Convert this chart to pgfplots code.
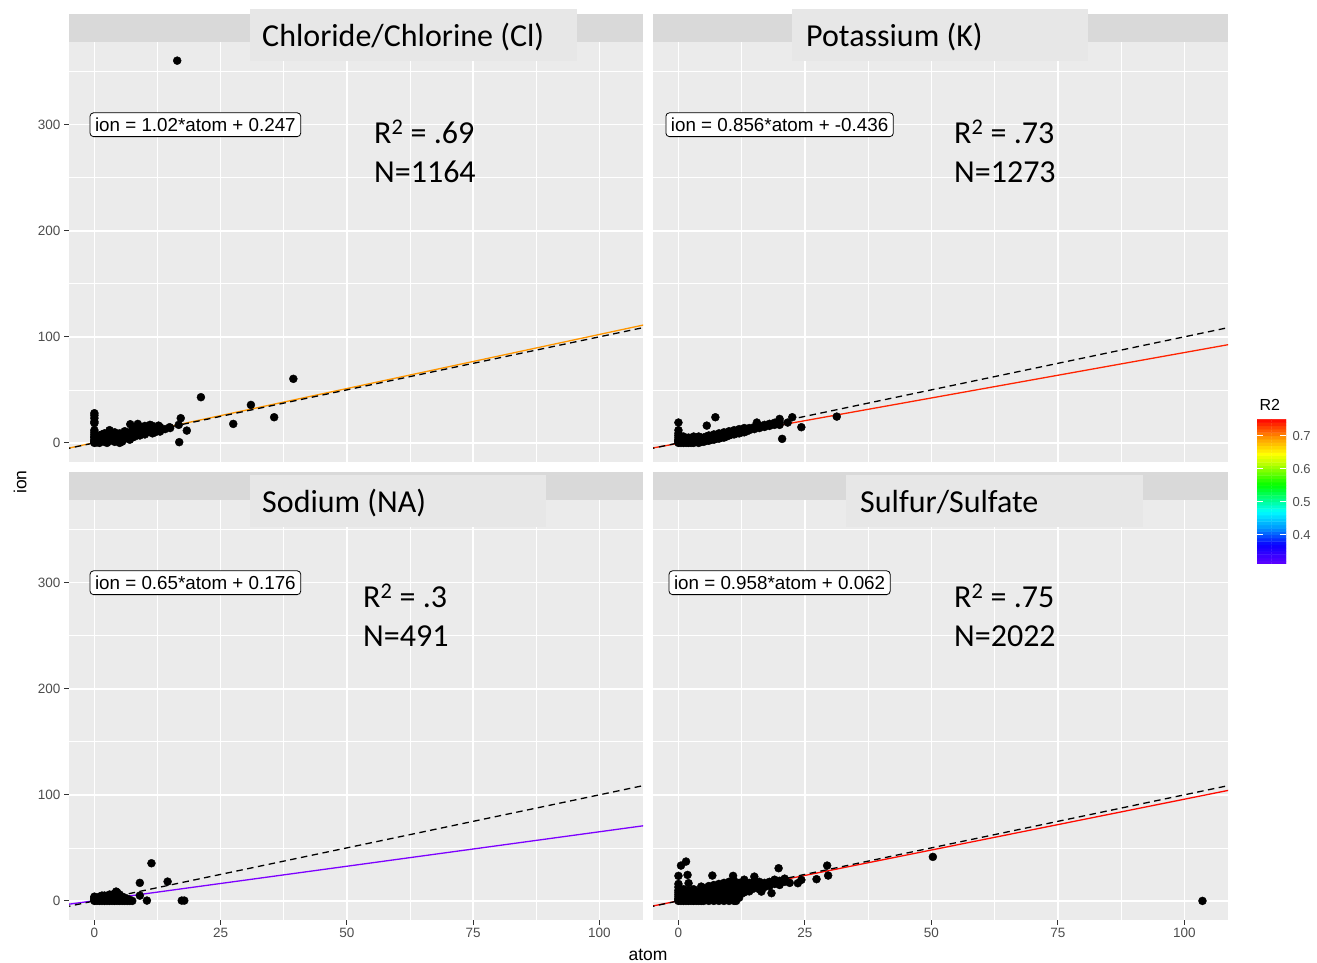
\documentclass[border=0pt]{standalone}
\usepackage{fontspec}
\setmainfont{Liberation Sans}
\newfontfamily\calib{Carlito}
\usepackage{pgfplots}
\usepackage{pgfplotstable}
\pgfplotsset{compat=1.18}

\definecolor{panelbg}{HTML}{EBEBEB}
\definecolor{stripbg}{HTML}{D9D9D9}
\definecolor{boxbg}{HTML}{E7E7E7}
\definecolor{ticktxt}{HTML}{4D4D4D}
\definecolor{tickcol}{HTML}{333333}
\definecolor{clcol}{RGB}{255,150,0}
\definecolor{kcol}{RGB}{255,35,0}
\definecolor{nacol}{RGB}{125,0,255}
\definecolor{scol}{RGB}{255,10,0}

\pgfplotstableread[row sep=\\]{x y\\
0 0\\ 0 1\\ 0 2\\ 0 3\\ 0 5\\ 0 6\\ 0 8\\ 0 10\\ 0 12\\ 0 18.6\\ 0 20\\ 0 23.3\\ 0 26\\ 0 28\\
0.5 0.5\\ 0.5 2\\ 0.5 4\\ 1 0\\ 1 1\\ 1 3\\ 1 5\\ 1 7\\ 1.5 2\\ 1.5 4\\ 1.5 8\\
2 1\\ 2 3\\ 2 6\\ 2 9\\ 2.5 0\\ 2.5 4\\ 2.5 7\\ 3 2\\ 3 5\\ 3 9\\ 3 12\\ 3.5 3\\ 3.5 6\\
4 1\\ 4 4\\ 4 7\\ 4 10\\ 4.5 5\\ 4.5 8\\ 5 0\\ 5 3\\ 5 6\\ 5 9\\ 5.5 1.2\\ 5.5 7\\
6 4\\ 6 8\\ 6 11\\ 6.5 6\\ 6.5 9\\ 7 3\\ 7 7\\ 7 10\\ 7.1 17.6\\ 7.5 5\\ 7.5 9\\ 7.5 12\\
8 6\\ 8 10\\ 8 14\\ 8.6 17.9\\ 8.5 8\\ 8.5 12\\ 9 7\\ 9 11\\ 9 15\\ 9.5 9\\ 9.5 13\\
10 8\\ 10 12\\ 10 16\\ 10.5 10\\ 10.5 14\\ 11 11\\ 11.4 16.3\\ 11 17\\ 11.5 9\\ 11.5 13\\
12 10\\ 12 14\\ 12.7 16.3\\ 12.5 12\\ 13 10.7\\ 13 15\\ 14 13\\ 14.9 14.8\\ 15 14\\
16.7 17\\ 17.1 23.3\\ 16.8 0.7\\ 18.3 11.6\\ 21.1 43.1\\ 27.5 17.9\\ 31.0 35.8\\ 35.6 24.2\\ 39.4 60.4\\ 16.4 360.4\\
}\tabCl

\pgfplotstableread[row sep=\\]{x y\\
0 0\\ 0 1\\ 0 2\\ 0 3\\ 0 5\\ 0 7\\ 0 9\\ 0 12\\ 0 19.2\\ 0.5 0\\ 0.5 2\\ 0.5 5\\
1 0\\ 1 1\\ 1 3\\ 1 6\\ 1.5 0\\ 1.5 2\\ 1.5 4\\ 2 0\\ 2 1\\ 2 3\\ 2 5\\ 2.5 0\\ 2.5 2\\ 2.5 4\\
3 0\\ 3 1\\ 3 3\\ 3 6\\ 3.5 1\\ 3.5 3\\ 4 0\\ 4 2\\ 4 4\\ 4 6\\ 4.5 1\\ 4.5 3\\ 4.5 5\\
5 1\\ 5 3\\ 5 5\\ 5.5 2\\ 5.5 4\\ 5.5 6\\ 5.6 16.3\\ 6 2\\ 6 4\\ 6 7\\ 6.5 3\\ 6.5 5\\
7 3\\ 7 5\\ 7 8\\ 7.3 24.2\\ 7.5 4\\ 7.5 6\\ 8 4\\ 8 7\\ 8 9\\ 8.5 5\\ 8.5 8\\
9 5\\ 9 7\\ 9 10\\ 9.5 6\\ 9.5 9\\ 10 7\\ 10 9\\ 10 11\\ 10.5 8\\ 10.5 10\\
11 8\\ 11 10\\ 11 12\\ 11.5 9\\ 11.5 11\\ 12 9\\ 12 11\\ 12 13\\ 12.5 10\\ 12.5 12\\
13 10\\ 13 12\\ 13 14\\ 13.5 11\\ 13.5 13\\ 14 12\\ 14 14\\ 15 13\\ 15 15\\ 15.5 19.2\\
16 14\\ 16 16\\ 17 15\\ 17 17\\ 18 16\\ 18 18\\ 19 17\\ 19 19\\ 20 17\\ 20 19\\
20 22.6\\ 20.5 3.8\\ 21.6 19.2\\ 22.5 24.2\\ 24.3 14.8\\ 31.3 24.8\\
}\tabK

\pgfplotstableread[row sep=\\]{x y\\
0 0\\ 0 1\\ 0 2\\ 0 3\\ 0 4\\ 0.5 0\\ 0.5 2\\ 1 0\\ 1 1\\ 1 3\\ 1 4\\ 1.5 0\\ 1.5 2\\ 1.5 5\\
2 0\\ 2 1\\ 2 3\\ 2 5\\ 2.5 0\\ 2.5 2\\ 2.5 4\\ 3 0\\ 3 1\\ 3 3\\ 3 6\\ 3.5 0\\ 3.5 2\\ 3.5 5\\
4 0\\ 4 1\\ 4 3\\ 4 7\\ 4.3 8.8\\ 4.5 0\\ 4.5 2\\ 4.5 5\\ 4.5 8\\ 5 0\\ 5 1\\ 5 3\\ 5 6\\
5.5 0\\ 5.5 2\\ 5.5 4\\ 6 0\\ 6 1\\ 6 3\\ 6.5 0\\ 6.5 2\\ 7 0\\ 7 1\\ 7.5 0\\
9 5\\ 9 17\\ 10.4 0.3\\ 11.3 35.5\\ 14.5 18.2\\ 17.3 0.3\\ 17.8 0.3\\
}\tabNa

\pgfplotstableread[row sep=\\]{x y\\
0 0\\ 0 1\\ 0 2\\ 0 4\\ 0 6\\ 0 8\\ 0 10\\ 0 13\\ 0 16\\ 0 23.6\\ 0.5 0\\ 0.5 3\\ 0.5 6\\ 0.5 33.3\\
1 0\\ 1 2\\ 1 4\\ 1 8\\ 1 11\\ 1.5 0\\ 1.5 3\\ 1.5 6\\ 1.5 37.1\\ 1.8 24.5\\ 2 16.7\\
2 0\\ 2 1\\ 2 4\\ 2 7\\ 2 10\\ 2.5 0\\ 2.5 3\\ 2.5 6\\ 3 0\\ 3 2\\ 3 5\\ 3 8\\ 3 11\\
3.5 0\\ 3.5 3\\ 3.5 7\\ 4 0\\ 4 2\\ 4 5\\ 4 9\\ 4.5 0\\ 4.5 4\\ 4.5 7\\ 4.5 13.5\\
5 0\\ 5 3\\ 5 6\\ 5 10\\ 5 12\\ 5.5 1\\ 5.5 5\\ 5.5 8\\ 6 0\\ 6 3\\ 6 7\\ 6 11\\ 6 14\\
6.5 2\\ 6.5 5\\ 6.5 9\\ 6.7 23.9\\ 7 0\\ 7 4\\ 7 8\\ 7 12\\ 7 15\\ 7.5 2\\ 7.5 6\\ 7.5 10\\
8 0\\ 8 5\\ 8 9\\ 8 13\\ 8 16\\ 8.5 3\\ 8.5 7\\ 8.5 11\\ 9 0\\ 9 6\\ 9 10\\ 9 14\\ 9 17\\
9.5 4\\ 9.5 8\\ 9.5 12\\ 10 0\\ 10 7\\ 10 11\\ 10 15\\ 10 18\\ 10.5 5\\ 10.5 9\\ 10.5 13\\ 10.8 23.6\\
11 0\\ 11 8\\ 11 12\\ 11 16\\ 11 19\\ 11.4 0\\ 11.5 6\\ 11.5 10\\ 11.5 14\\
12 3\\ 12 9\\ 12 13\\ 12 17\\ 12.5 7\\ 12.5 11\\ 12.5 15\\ 13 8\\ 13 12\\ 13 16\\ 13 20\\
13.5 10\\ 13.5 14\\ 14 9\\ 14 13\\ 14 17\\ 14.5 11\\ 14.5 15\\ 15 12\\ 15 16\\ 15 19\\ 15 22.9\\
16 11\\ 16 15\\ 16 18\\ 16.4 8.8\\ 17 13\\ 17 17\\ 18 14\\ 18 18\\ 18.4 7.3\\ 19 16\\ 19 20\\
19.8 30.8\\ 20 15\\ 20 19\\ 21 18\\ 21 21\\ 22 17\\
23.6 16.7\\ 24.3 19.8\\ 27.3 20.5\\ 29.4 33.3\\ 29.6 23.9\\ 50.3 41.5\\ 103.6 0\\
}\tabS

\pgfplotsset{
  panel/.style={
    scale only axis, width=574pt, height=420pt,
    xmin=-5.03, xmax=108.65, ymin=-18, ymax=378,
    axis line style={draw=none},
    axis background/.style={fill=panelbg},
    xtick={0,25,50,75,100}, ytick={0,100,200,300},
    minor xtick={12.5,37.5,62.5,87.5}, minor ytick={50,150,250,350},
    xtick pos=bottom, ytick pos=left,
    grid=both,
    major grid style={white, line width=1.5pt},
    minor grid style={white, line width=0.7pt},
    tick align=outside, major tick length=5pt, minor tick length=0pt,
    every tick/.style={tickcol, line width=1pt},
    tick label style={font=\fontsize{13.5}{15}\selectfont, text=ticktxt},
    /pgf/number format/assume math mode=true,
  },
  pts/.style={only marks, mark=*, mark size=4pt, draw=black, fill=black},
  idl/.style={black, line width=1.3pt, dash pattern=on 6.5pt off 4.5pt},
}
\tikzset{
  eqn/.style={draw=black, fill=white, rounded corners=3.5pt, line width=0.8pt,
    inner xsep=5pt, inner ysep=5pt, font=\fontsize{18.8}{21}\selectfont},
}

\begin{document}
\begin{tikzpicture}
\path (0,0) rectangle (1317pt,963pt);

% Top-left: Chloride
\begin{axis}[panel, at={(69pt,501pt)}, anchor=south west, xmajorticks=false]
\addplot[pts] table {\tabCl};
\addplot[clcol, line width=1.3pt] coordinates {(-6,-5.873) (110,112.447)};
\addplot[idl] coordinates {(-6,-6) (110,110)};
\node[eqn] at (axis cs:20,300) {ion = 1.02*atom + 0.247};
\end{axis}

% Top-right: Potassium
\begin{axis}[panel, width=575pt, at={(653pt,501pt)}, anchor=south west, xmajorticks=false, ymajorticks=false]
\addplot[pts] table {\tabK};
\addplot[kcol, line width=1.3pt] coordinates {(-6,-5.572) (110,93.724)};
\addplot[idl] coordinates {(-6,-6) (110,110)};
\node[eqn] at (axis cs:20,300) {ion = 0.856*atom + -0.436};
\end{axis}

% Bottom-left: Sodium
\begin{axis}[panel, at={(69pt,43pt)}, anchor=south west]
\addplot[pts] table {\tabNa};
\addplot[nacol, line width=1.3pt] coordinates {(-6,-3.724) (110,71.676)};
\addplot[idl] coordinates {(-6,-6) (110,110)};
\node[eqn] at (axis cs:20,300) {ion = 0.65*atom + 0.176};
\end{axis}

% Bottom-right: Sulfur
\begin{axis}[panel, width=575pt, at={(653pt,43pt)}, anchor=south west, ymajorticks=false]
\addplot[pts] table {\tabS};
\addplot[scol, line width=1.3pt] coordinates {(-6,-5.686) (110,105.442)};
\addplot[idl] coordinates {(-6,-6) (110,110)};
\node[eqn] at (axis cs:20,300) {ion = 0.958*atom + 0.062};
\end{axis}

% Colour bar
\begin{axis}[at={(1257pt,399pt)}, anchor=south west, scale only axis,
  width=29pt, height=144pt, xmin=0, xmax=1, ymin=0.312, ymax=0.748,
  axis line style={draw=none}, xtick=\empty,
  ytick={0.4,0.5,0.6,0.7}, yticklabels={0.4,0.5,0.6,0.7},
  yticklabel pos=right, ytick pos=both,
  tick align=inside, major tick length=6pt,
  every tick/.style={white, line width=1pt}, axis on top,
  tick label style={font=\fontsize{13}{15}\selectfont, text=ticktxt},
  yticklabel style={xshift=3pt},
  colormap={r2map}{rgb255(0pt)=(110,0,255); rgb255(70pt)=(10,0,255); rgb255(120pt)=(0,150,255);
    rgb255(170pt)=(0,255,255); rgb255(215pt)=(0,255,110); rgb255(250pt)=(0,255,0);
    rgb255(320pt)=(200,255,0); rgb255(345pt)=(255,255,0); rgb255(390pt)=(255,160,0); rgb255(450pt)=(255,0,0)},
  point meta min=0.3, point meta max=0.75]
\addplot[matrix plot*, mesh/cols=2, point meta=y] coordinates {
(0.25,0.315)(0.75,0.315)(0.25,0.325)(0.75,0.325)(0.25,0.335)(0.75,0.335)(0.25,0.345)(0.75,0.345)
(0.25,0.355)(0.75,0.355)(0.25,0.365)(0.75,0.365)(0.25,0.375)(0.75,0.375)(0.25,0.385)(0.75,0.385)
(0.25,0.395)(0.75,0.395)(0.25,0.405)(0.75,0.405)(0.25,0.415)(0.75,0.415)(0.25,0.425)(0.75,0.425)
(0.25,0.435)(0.75,0.435)(0.25,0.445)(0.75,0.445)(0.25,0.455)(0.75,0.455)(0.25,0.465)(0.75,0.465)
(0.25,0.475)(0.75,0.475)(0.25,0.485)(0.75,0.485)(0.25,0.495)(0.75,0.495)(0.25,0.505)(0.75,0.505)
(0.25,0.515)(0.75,0.515)(0.25,0.525)(0.75,0.525)(0.25,0.535)(0.75,0.535)(0.25,0.545)(0.75,0.545)
(0.25,0.555)(0.75,0.555)(0.25,0.565)(0.75,0.565)(0.25,0.575)(0.75,0.575)(0.25,0.585)(0.75,0.585)
(0.25,0.595)(0.75,0.595)(0.25,0.605)(0.75,0.605)(0.25,0.615)(0.75,0.615)(0.25,0.625)(0.75,0.625)
(0.25,0.635)(0.75,0.635)(0.25,0.645)(0.75,0.645)(0.25,0.655)(0.75,0.655)(0.25,0.665)(0.75,0.665)
(0.25,0.675)(0.75,0.675)(0.25,0.685)(0.75,0.685)(0.25,0.695)(0.75,0.695)(0.25,0.705)(0.75,0.705)
(0.25,0.715)(0.75,0.715)(0.25,0.725)(0.75,0.725)(0.25,0.735)(0.75,0.735)(0.25,0.745)(0.75,0.745)
};
\end{axis}
\node[anchor=west, font=\fontsize{16}{18}\selectfont] at (1256pt,558pt) {R2};

% Strips
\fill[stripbg] (69pt,921pt) rectangle (643pt,949pt);
\fill[stripbg] (653pt,921pt) rectangle (1228pt,949pt);
\fill[stripbg] (69pt,463pt) rectangle (643pt,491pt);
\fill[stripbg] (653pt,463pt) rectangle (1228pt,491pt);

% Overlaid title boxes
\fill[boxbg] (250pt,902pt) rectangle (577pt,954pt);
\fill[boxbg] (792pt,902pt) rectangle (1088pt,954pt);
\fill[boxbg] (250pt,436pt) rectangle (546pt,488pt);
\fill[boxbg] (846pt,436pt) rectangle (1143pt,488pt);
\begin{scope}[every node/.style={anchor=base west, inner sep=0pt, font=\calib\fontsize{32}{36}\selectfont}]
\node at (262pt,916pt) {Chloride/Chlorine (Cl)};
\node at (806pt,916pt) {Potassium (K)};
\node at (262pt,450pt) {Sodium (NA)};
\node at (860pt,450pt) {Sulfur/Sulfate};
\node at (374pt,819pt) {R\textsuperscript{2} = .69};
\node at (374pt,780pt) {N=1164};
\node at (954pt,819pt) {R\textsuperscript{2} = .73};
\node at (954pt,780pt) {N=1273};
\node at (363pt,355pt) {R\textsuperscript{2} = .3};
\node at (363pt,316pt) {N=491};
\node at (954pt,355pt) {R\textsuperscript{2} = .75};
\node at (954pt,316pt) {N=2022};
\end{scope}

% Axis titles
\node[font=\fontsize{17.5}{19}\selectfont] at (648pt,8pt) {atom};
\node[font=\fontsize{17.5}{19}\selectfont, rotate=90] at (20pt,481pt) {ion};

\pgfresetboundingbox
\useasboundingbox (0,0) rectangle (1317pt,963pt);
\end{tikzpicture}
\end{document}
